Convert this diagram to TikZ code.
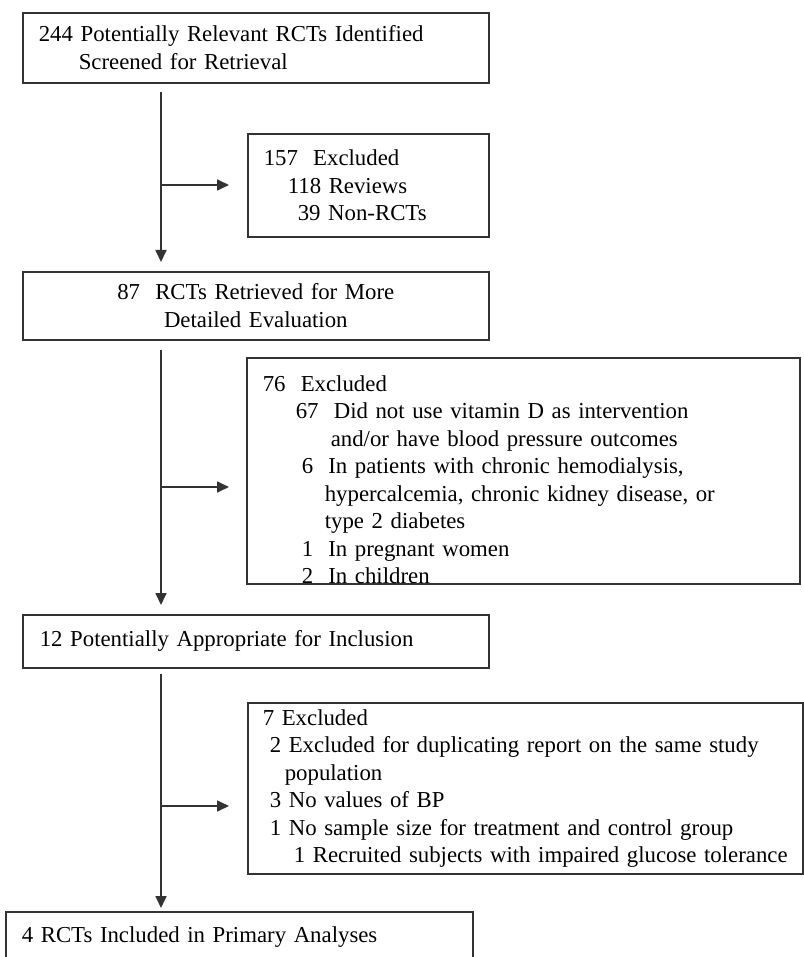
\documentclass[tikz,border=0pt]{standalone}
\usepackage{fontspec}
\setmainfont{Liberation Serif}
\usepackage{tikz}
\usetikzlibrary{arrows.meta,positioning}

\begin{document}
\begin{tikzpicture}[x=1pt, y=-1pt]
  \tikzstyle{box} = [rectangle, draw=black!80, line width=1.6pt, anchor=north west, inner xsep=16pt,
                     inner ysep=0pt, align=left, text=black, font=\fontsize{22.8}{27.5}\selectfont]
  \tikzstyle{arrow} = [-{Triangle[length=12pt,width=11pt]}, line width=1.7pt, draw=black!80]
  \useasboundingbox (0,0) rectangle (803,957);
  \node[box, minimum width=466pt, minimum height=70pt, text width=434pt] (found) at (22,12)
    {244 Potentially Relevant RCTs Identified\\\hspace*{40pt}Screened for Retrieval};
  \node[box, minimum width=241pt, minimum height=103pt, text width=209pt] (excl1) at (247,133)
    {157\ \ Excluded\\\hspace*{24pt}118 Reviews\\\hspace*{34pt}39 Non-RCTs};
  \node[box, minimum width=466pt, minimum height=68pt, text width=434pt, align=center] (retr) at (22,271)
    {87\ \ RCTs Retrieved for More\\Detailed Evaluation};
  \node[box, minimum width=553pt, minimum height=225pt, text width=521pt] (excl2) at (246,357)
    {\rule{0pt}{33.5pt}76\ \ Excluded\\
     \hspace*{33pt}67\ \ Did not use vitamin D as intervention\\
     \hspace*{68pt}and/or have blood pressure outcomes\\
     \hspace*{39pt}6\ \ In patients with chronic hemodialysis,\\
     \hspace*{62pt}hypercalcemia, chronic kidney disease, or\\
     \hspace*{62pt}type 2 diabetes\\
     \hspace*{39pt}1\ \ In pregnant women\\
     \hspace*{39pt}2\ \ In children};
  \node[box, minimum width=466pt, minimum height=53pt, inner xsep=17pt, text width=432pt] (appr) at (22,614)
    {12 Potentially Appropriate for Inclusion};
  \node[box, minimum width=555pt, minimum height=171pt, inner xsep=15pt, text width=525pt] (excl3) at (247,702)
    {7 Excluded\\
     \hspace*{7pt}2 Excluded for duplicating report on the same study\\
     \hspace*{22pt}population\\
     \hspace*{7pt}3 No values of BP\\
     \hspace*{7pt}1 No sample size for treatment and control group\\
     \hspace*{31pt}1 Recruited subjects with impaired glucose tolerance};
  \node[box, minimum width=467pt, minimum height=50pt, text width=435pt] (incl) at (5,911)
    {4 RCTs Included in Primary Analyses};
  \coordinate (trunk) at (161,0);
  \coordinate (b1) at (161,185);
  \coordinate (b2) at (161,487);
  \coordinate (b3) at (161,806);
  \draw[arrow, shorten <=8pt, shorten >=9pt] (found.south -| trunk) -- (retr.north -| trunk);
  \draw[arrow, shorten <=9pt, shorten >=9pt] (retr.south -| trunk) -- (appr.north -| trunk);
  \draw[arrow, shorten <=5pt, shorten >=3pt] (appr.south -| trunk) -- (incl.north -| trunk);
  \draw[arrow, shorten >=18pt] (b1) -- (b1 -| excl1.west);
  \draw[arrow, shorten >=17pt] (b2) -- (b2 -| excl2.west);
  \draw[arrow, shorten >=18pt] (b3) -- (b3 -| excl3.west);
\end{tikzpicture}
\end{document}
